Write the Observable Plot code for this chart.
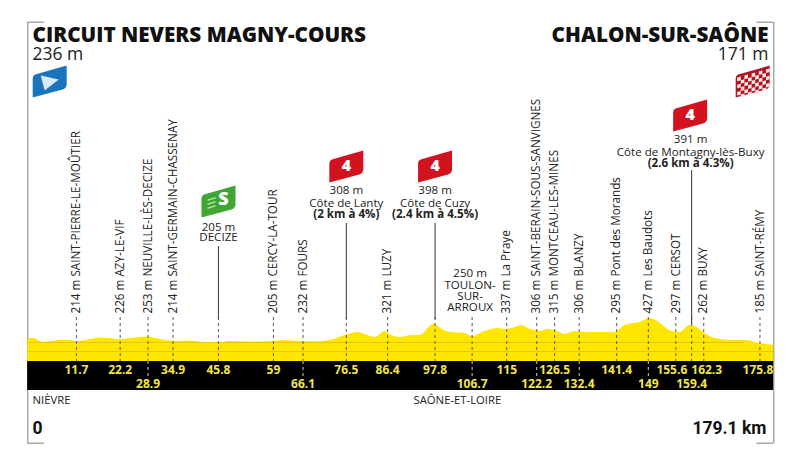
<!DOCTYPE html>
<html>
<head>
<meta charset="utf-8">
<script src="https://cdn.jsdelivr.net/npm/d3@7"></script>
<script src="https://cdn.jsdelivr.net/npm/@observablehq/plot@0.6"></script>
<style>html,body{margin:0;padding:0;background:#fff}svg{display:block}</style>
</head>
<body>
<div id="chart"></div>
<script>
// ---- Profile ----
const profileKm = [0,1.4,2.6,3.6,5.5,7.9,10.3,11.7,13.9,17.5,19.9,21.8,24.7,28.9,30.7,33.1,36.7,39.1,41.5,44.3,46.3,48.2,52.3,55.9,58.7,61.9,65.4,69,72.6,76.2,79.4,81,83.4,85.8,87,89.4,92.3,94.2,97.6,99.5,101.4,105,106.7,109.8,113,114.7,117,118.7,120.2,121.8,123,124.9,126.6,129,131.4,135,139.8,141,143.4,147,149.4,150.8,152.5,154.7,156.6,159,160.7,162.6,165,168.6,172.2,175.8,179.1];
const profileElev = [236,240,219,200,209,219,219,209,219,243,238,228,238,253,238,219,209,214,200,190,190,209,205,205,209,219,209,205,219,267,295,276,247,305,276,247,267,267,375,324,295,286,257,305,333,324,343,362,333,314,305,324,314,276,305,295,295,295,362,390,429,409,362,305,295,362,343,286,238,219,219,190,171];

// ---- Stops: kilometre, elevation and name ----
const stopKm   = [11.7,22.2,28.9,34.9,59,66.1,86.4,115,122.2,126.5,132.4,141.4,149,155.6,162.3,175.8];
const stopElev = [214,226,253,214,205,232,321,337,306,315,306,295,427,297,262,185];
const stopName = ["SAINT-PIERRE-LE-MOÛTIER","AZY-LE-VIF","NEUVILLE-LÈS-DECIZE","SAINT-GERMAIN-CHASSENAY","CERCY-LA-TOUR","FOURS","LUZY","La Praye","SAINT-BERAIN-SOUS-SANVIGNES","MONTCEAU-LES-MINES","BLANZY","Pont des Morands","Les Baudots","CERSOT","BUXY","SAINT-RÉMY"];

// ---- Kilometre labels in the black band ----
const upperKm = [11.7,22.2,34.9,45.8,59,76.5,86.4,97.8,115,126.5,141.4];
const lowerKm = [28.9,66.1,106.7,122.2,132.4,149,159.4];
const shiftedLeftKm = [155.6];
const shiftedRightKm = [162.3];
const lastKmLabel = [175.8];
const throughBandKm = [28.9,66.1,106.7,122.2,132.4,149];

// ---- Climbs, sprint, town ----
const climbKm = [76.5,97.8];
const climbElev = [308,398];
const climbName = ["Côte de Lanty","Côte de Cuzy"];
const climbDetail = ["(2 km à 4%)","(2.4 km à 4.5%)"];
const lastClimbKm = [159.4];
const lastClimbLabel = ["391 m\nCôte de Montagny-lès-Buxy"];
const lastClimbDetail = ["(2.6 km à 4.3%)"];
const sprintKm = [45.8];
const sprintLabel = ["205 m\nDECIZE"];
const townKm = [106.7];
const townLabel = ["250 m\nTOULON-\nSUR-\nARROUX"];

const totalKm = 179.1;
const ink = "#222";
const font = "Open Sans";
const yellowText = "#f2e64a";

const profile = profileKm.map((km, i) => ({km, elev: profileElev[i]}));
const stops = stopKm.map((km, i) => ({km, label: `${stopElev[i]} m ${stopName[i]}`}));
const climbs = climbKm.map((km, i) => ({km, label: `${climbElev[i]} m\n${climbName[i]}`, detail: climbDetail[i]}));

// ---- Icon shapes (custom Plot dot symbols) ----
function shieldPath(c) {
  c.moveTo(-14.5, -7);
  c.lineTo(17, -16);
  c.lineTo(17, 3);
  c.quadraticCurveTo(16.5, 7, 13, 8);
  c.lineTo(-17, 16);
  c.lineTo(-17, -3);
  c.quadraticCurveTo(-17, -6, -14.5, -7);
  c.closePath();
}
const shield = {draw: shieldPath};
const playTriangle = {draw(c) { c.moveTo(-9, -6); c.lineTo(9, -2); c.lineTo(-5, 9); c.closePath(); }};
const sprintBars = {draw(c) {
  for (const [u, v, w] of [[-11,-2,8],[-11,2,8],[-11,6,8]]) {
    c.moveTo(u, v); c.lineTo(u + w, v - 2.4); c.lineTo(u + w, v - 1); c.lineTo(u, v + 1.4); c.closePath();
  }
}};
const checkers = {draw(c) {
  const s = 3.6;
  for (let i = 0; i < 9; i++) for (let j = 0; j < 6; j++) {
    if ((i + j) % 2) continue;
    const u = -15.5 + i * s, v = -8 + j * s - 0.28 * (u + 1);
    c.moveTo(u, v); c.lineTo(u + s, v - 1); c.lineTo(u + s, v + s - 1); c.lineTo(u, v + s); c.closePath();
  }
}};

// ---- Helpers for frame-anchored labels ----
const text = (data, o) => Plot.text(data, {frameAnchor: "top", lineAnchor: "middle", fontFamily: font, fill: ink, ...o});
const label = (s, o) => Plot.text([s], {frameAnchor: "top-left", lineAnchor: "middle", text: d => d, fontFamily: font, fill: ink, ...o});
const corner = (x1, x2, top) => Plot.rect([{x1, x2}], {x1: "x1", x2: "x2", insetTop: top, insetBottom: 450 - top - 1.5, fill: "#a8a8a8"});
const kmText = (data, dy, dx = 0) => text(data, {x: d => d, text: d => String(d), dy, dx, fill: yellowText, fontWeight: 700, fontSize: 12});

const plot = Plot.plot({
  width: 800,
  height: 450,
  margin: 0,
  x: {domain: [0, totalKm], range: [27.2, 773.2], axis: null},
  y: {domain: [-829, 3457], range: [450, 0], axis: null},
  style: {background: "#fff", fontFamily: font},
  marks: [
    // frame
    Plot.ruleX([0, totalKm], {x: d => d, insetTop: 22, insetBottom: 7, stroke: "#a8a8a8", strokeWidth: 1.5}),
    corner(0, 4, 21.5), corner(totalKm - 4, totalKm, 21.5),
    corner(0, 4, 442.5), corner(totalKm - 4, totalKm, 442.5),

    // profile
    Plot.areaY(profile, {x: "km", y: "elev", fill: "#ffe600", curve: "monotone-x"}),
    Plot.ruleY([114], {x1: 0, x2: totalKm, stroke: "#e6c800", strokeWidth: 1}),
    Plot.ruleY([200], {x1: 0, x2: 172, stroke: "#e6c800", strokeWidth: 1}),

    // black band
    Plot.rect([{a: 0, b: totalKm}], {x1: "a", x2: "b", insetTop: 361, insetBottom: 60, fill: "#000"}),

    // stems
    Plot.ruleX([...stopKm, ...sprintKm, ...climbKm, ...lastClimbKm, ...townKm], {x: d => d, insetTop: 317, insetBottom: 89, stroke: "#666", strokeWidth: 1.1, strokeDasharray: "3,3"}),
    Plot.ruleX(throughBandKm, {x: d => d, insetTop: 361, insetBottom: 73, stroke: "#bbb", strokeWidth: 1.1, strokeDasharray: "3,3"}),
    Plot.ruleX(sprintKm, {x: d => d, insetTop: 246, insetBottom: 131, stroke: "#444", strokeWidth: 1.1}),
    Plot.ruleX(climbKm, {x: d => d, insetTop: 223, insetBottom: 131, stroke: "#444", strokeWidth: 1.1}),
    Plot.ruleX(lastClimbKm, {x: d => d, insetTop: 170, insetBottom: 126, stroke: "#444", strokeWidth: 1.1}),

    // kilometre labels
    kmText(upperKm, 370),
    kmText(shiftedLeftKm, 370, -4),
    kmText(shiftedRightKm, 370, 3),
    kmText(lastKmLabel, 370, -2),
    kmText(lowerKm, 384),

    // rotated stop labels
    text(stops, {x: "km", text: "label", rotate: -90, textAnchor: "start", dy: 313, fontSize: 11.7}),

    // climb labels
    text(climbs, {x: "km", text: "label", dy: 196, fontSize: 11.6, lineHeight: 1.05}),
    text(climbs, {x: "km", text: "detail", dy: 214, fontSize: 11.6, fontWeight: 700}),
    text(lastClimbLabel, {x: () => lastClimbKm[0], text: d => d, dy: 145, dx: -1, fontSize: 11.6, lineHeight: 1.05}),
    text(lastClimbDetail, {x: () => lastClimbKm[0], text: d => d, dy: 163, dx: -1, fontSize: 11.6, fontWeight: 700}),
    text(sprintLabel, {x: () => sprintKm[0], text: d => d, dy: 232, fontSize: 11.6, lineHeight: 0.9}),
    text(townLabel, {x: () => townKm[0], text: d => d, dy: 290, dx: -2, fontSize: 11.6, lineHeight: 0.96}),

    // climb shields
    Plot.dot(climbKm, {x: d => d, frameAnchor: "top", dy: 166, symbol: shield, r: 10, fill: "#d2121e", stroke: "none"}),
    Plot.dot(lastClimbKm, {x: d => d, frameAnchor: "top", dy: 115, dx: -1.5, symbol: shield, r: 10, fill: "#d2121e", stroke: "none"}),
    text(climbKm, {x: d => d, text: () => "4", dy: 165, fill: "#fff", fontWeight: 800, fontSize: 16}),
    text(lastClimbKm, {x: d => d, text: () => "4", dy: 114, dx: -1.5, fill: "#fff", fontWeight: 800, fontSize: 16}),

    // sprint shield
    Plot.dot(sprintKm, {x: d => d, frameAnchor: "top", dy: 201, symbol: shield, r: 10, fill: "#3fa535", stroke: "none"}),
    Plot.dot(sprintKm, {x: d => d, frameAnchor: "top", dy: 201, symbol: sprintBars, r: 10, fill: "#b6e2a8", stroke: "none"}),
    text(sprintKm, {x: d => d, text: () => "S", dy: 199, dx: 5, fill: "#fff", fontWeight: 800, fontSize: 18}),

    // start and finish flags
    Plot.dot([0], {x: d => d, frameAnchor: "top", dy: 81, dx: 22, symbol: shield, r: 10, fill: "#1b75bc", stroke: "none"}),
    Plot.dot([0], {x: d => d, frameAnchor: "top", dy: 81, dx: 22, symbol: playTriangle, r: 10, fill: "#d8ecf7", stroke: "none"}),
    Plot.dot([totalKm], {x: d => d, frameAnchor: "top", dy: 81, dx: -21, symbol: shield, r: 10, fill: "#b01622", stroke: "none"}),
    Plot.dot([totalKm], {x: d => d, frameAnchor: "top", dy: 81, dx: -21, symbol: checkers, r: 10, fill: "#fbe9e9", stroke: "none"}),

    // titles
    label("CIRCUIT NEVERS MAGNY-COURS", {dx: 32, dy: 34.5, textAnchor: "start", fontSize: 20.7, fontWeight: 800, fill: "#111"}),
    label("236 m", {dx: 32, dy: 53.5, textAnchor: "start", fontSize: 17.5}),
    label("CHALON-SUR-SAÔNE", {dx: 768, dy: 34.5, textAnchor: "end", fontSize: 20.7, fontWeight: 800, fill: "#111"}),
    label("171 m", {dx: 768, dy: 53.5, textAnchor: "end", fontSize: 17.5}),

    // bottom labels
    label("NIÈVRE", {dx: 32, dy: 400, textAnchor: "start", fontSize: 11.3}),
    label("SAÔNE-ET-LOIRE", {dx: 413, dy: 400, textAnchor: "start", fontSize: 11.3}),
    label("0", {dx: 32, dy: 428, textAnchor: "start", fontSize: 17.5, fontWeight: 700, fontFamily: "Roboto", fill: "#111"}),
    label("179.1 km", {dx: 766, dy: 428, textAnchor: "end", fontSize: 17.5, fontWeight: 700, fontFamily: "Roboto", fill: "#111"})
  ]
});
document.getElementById("chart").append(plot);
</script>
</body>
</html>
